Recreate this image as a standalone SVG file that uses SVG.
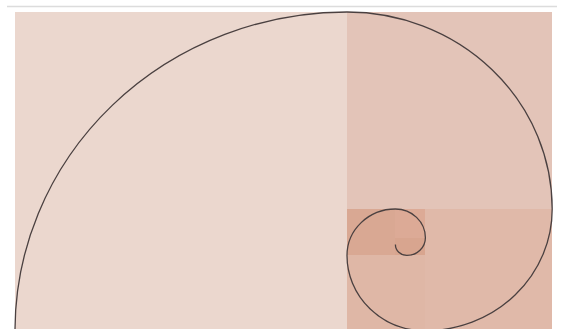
<svg xmlns="http://www.w3.org/2000/svg" width="563" height="329" viewBox="0 0 563 329">
<style>
.sq{stroke:none;shape-rendering:crispEdges}
.spiral{fill:none;stroke:#4a4040;stroke-width:1.3;vector-effect:non-scaling-stroke}
</style>
<rect width="563" height="329" fill="#ffffff"/>
<line x1="7" y1="6.5" x2="557" y2="6.5" stroke="#dcdcdc" stroke-width="1.5"/>
<g id="golden" transform="translate(15,12) scale(1,0.96)">
  <rect id="s1" class="sq" x="0" y="0" width="332" height="332" fill="#ebd7ce"/>
  <rect id="s2" class="sq" x="332" y="0" width="205.2" height="205.2" fill="#e3c4b8"/>
  <rect id="s3" class="sq" x="410.4" y="205.2" width="126.8" height="126.8" fill="#e0b9a9"/>
  <rect id="s4" class="sq" x="332" y="253.6" width="78.4" height="78.4" fill="#dfb7a6"/>
  <rect id="s5" class="sq" x="332" y="205.2" width="48.4" height="48.4" fill="#d9a893"/>
  <rect id="s6" class="sq" x="380.4" y="205.2" width="30" height="29.9" fill="#dcaa96"/>
  <rect id="s7" class="sq" x="380.4" y="235.1" width="30" height="18.5" fill="#d8a58f"/>
  <path class="spiral" d="M 0 332 A 332 332 0 0 1 332 0 A 205.2 205.2 0 0 1 537.2 205.2 A 126.8 126.8 0 0 1 410.4 332 A 78.4 78.4 0 0 1 332 253.6 A 48.4 48.4 0 0 1 380.4 205.2 A 30 30 0 0 1 410.4 235.1 A 18.5 18.5 0 0 1 391.9 253.6 A 11.4 11.4 0 0 1 380.4 242.2"/>
</g>
</svg>
